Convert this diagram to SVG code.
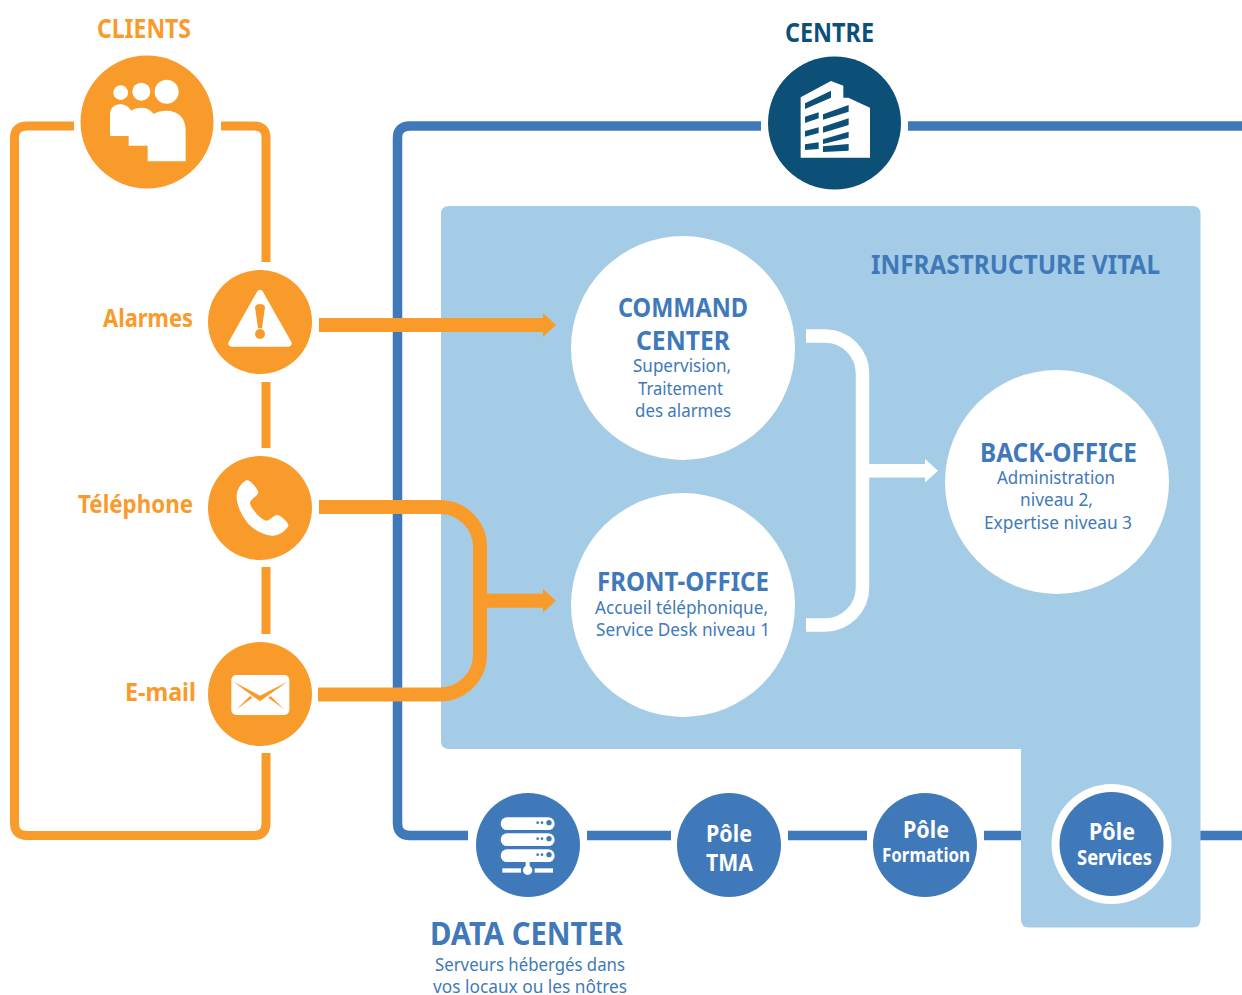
<svg xmlns="http://www.w3.org/2000/svg" width="1242" height="995" viewBox="0 0 1242 995">
<style>
text{font-family:"Noto Sans","Open Sans","DejaVu Sans",sans-serif;text-anchor:middle}
.h{font-weight:700}
.o{fill:#F99B2B}.b{fill:#3F79BA}.d{fill:#0C5078}.w{fill:#fff}
.t18{font-size:17.500px;fill:#3F79BA}
.t28{font-size:27px;font-weight:700;fill:#3F79BA}
.lb{font-size:25px;font-weight:700;fill:#F99B2B}
.lo{fill:none;stroke:#F99B2B;stroke-width:9}
.lbl{fill:none;stroke:#3F79BA;stroke-width:9.500}
.ao{fill:none;stroke:#F99B2B;stroke-width:14}
.aw{fill:none;stroke:#fff;stroke-width:13.500}
.wp{font-weight:700;fill:#fff}
</style>
<g id="connectors-frames">
<path class="lo" d="M74 126H27Q14.500 126 14.500 138V823Q14.500 835.500 27 835.500H254Q266 835.500 266 823V753M266 634V567M266 448V382M266 262V138Q266 126 254 126H221"/>
<path class="lbl" d="M761 126H410Q397.500 126 397.500 138V823Q397.500 835.500 410 835.500H468M587 835.500H671M788 835.500H867M984 835.500H1030M1190 835.500H1242M908 126H1242"/>
</g>
<g id="panel"><path d="M449 206H1192.500Q1200.500 206 1200.500 214V919.500Q1200.500 927.500 1192.500 927.500H1029Q1021 927.500 1021 919.500V749H449Q441 749 441 741V214Q441 206 449 206Z" fill="#A5CCE6"/>
<text x="1015.500" y="274" class="t28" textLength="289" lengthAdjust="spacingAndGlyphs">INFRASTRUCTURE VITAL</text></g>
<g id="connectors">
<path class="ao" d="M319 325H545"/><path class="o" d="M543 313L556 325L543 337Z"/>
<path class="ao" d="M319 507H440A40 40 0 0 1 480 547V654.500A40 40 0 0 1 440 694.500H318"/>
<path class="ao" d="M480 600.700H545"/><path class="o" d="M543 589L556 600.700L543 612.500Z"/>
<path class="aw" d="M806 336H825A37.500 37.500 0 0 1 862.500 373.500V587.500A37.500 37.500 0 0 1 825 625H806"/>
<path class="aw" d="M862.500 470.700H927"/><path class="w" d="M925 459L938 470.700L925 482.500Z"/>
</g>
<g id="clients"><text x="144" y="38" class="h o" font-size="26" textLength="94" lengthAdjust="spacingAndGlyphs">CLIENTS</text>
<circle cx="147" cy="122" r="66.500" class="o"/>
<g transform="translate(70 40) scale(.3333)" class="w"><circle cx="152" cy="158" r="22"/><circle cx="214" cy="155" r="27"/><circle cx="290" cy="155" r="36"/>
<path d="M120 288V225C120 205 133 193 150 193C165 193 177 200 183 212C192 206 203 203 215 203C230 203 243 210 251 222C262 215 275 212 290 212C325 212 347 235 347 270V364H233V317H176V288Z"/></g></g>
<g id="centre"><text x="829.500" y="42" class="h d" font-size="26" textLength="89" lengthAdjust="spacingAndGlyphs">CENTRE</text>
<circle cx="834.500" cy="123" r="66.500" class="d"/>
<g transform="translate(755 45) scale(.3333)"><path class="w" d="M137 338V157L228 108L265 122V158H280L345 188V338Z"/>
<path class="d" d="M150 175L228 137V158L150 192ZM150 215L191 202V220L150 234ZM150 258L191 247V264L150 275ZM150 298L191 292V312L150 315ZM204 208L281 180V200L204 224ZM204 245L281 220V240L204 263ZM204 283L281 260V278L204 297ZM204 304L281 297V317L204 321Z"/></g></g>
<g id="alarmes"><text x="148" y="327" class="lb" textLength="90" lengthAdjust="spacingAndGlyphs">Alarmes</text>
<circle cx="260" cy="322" r="52" class="o"/>
<g transform="translate(200 260) scale(.3333)"><path class="w" stroke="#fff" stroke-width="20" stroke-linejoin="round" d="M180 100L95 250H265Z"/><path class="o" d="M165 142Q167 132 180 132Q193 132 195 142L186 205H174Z"/><circle cx="180" cy="222" r="15" class="o"/></g></g>
<g id="telephone"><text x="135.500" y="513" class="lb" textLength="115" lengthAdjust="spacingAndGlyphs">Téléphone</text>
<circle cx="260" cy="508" r="52" class="o"/>
<g transform="translate(200 260) scale(.3333)"><path class="w" d="M110 705C112 685 125 668 140 660C150 658 176 690 175 698C172 708 150 718 150 730C152 745 185 782 200 782C212 780 222 764 232 765C245 768 268 790 265 798C255 815 235 828 215 827C190 825 160 810 140 785C122 762 108 730 110 705Z"/></g></g>
<g id="email"><text x="160.500" y="701" class="lb" textLength="71" lengthAdjust="spacingAndGlyphs">E-mail</text>
<circle cx="260" cy="694" r="52" class="o"/>
<g transform="translate(200 630) scale(.3333)"><rect x="94" y="135" width="174" height="120" rx="15" class="w"/><path class="o" d="M100 155L180 197L262 155L180 214ZM110 238L150 198L157 203ZM252 238L212 198L205 203Z"/></g></g>
<g id="command-center"><circle cx="683" cy="348" r="112" class="w"/>
<text x="683" y="316.500" class="t28" textLength="130" lengthAdjust="spacingAndGlyphs">COMMAND</text>
<text x="683" y="349.500" class="t28" textLength="94" lengthAdjust="spacingAndGlyphs">CENTER</text>
<text x="682" y="372" class="t18" textLength="98" lengthAdjust="spacingAndGlyphs">Supervision,</text>
<text x="680.500" y="395" class="t18" textLength="85" lengthAdjust="spacingAndGlyphs">Traitement</text>
<text x="683" y="417" class="t18" textLength="96" lengthAdjust="spacingAndGlyphs">des alarmes</text></g>
<g id="front-office"><circle cx="683" cy="605" r="112" class="w"/>
<text x="683" y="590.500" class="t28" textLength="172" lengthAdjust="spacingAndGlyphs">FRONT-OFFICE</text>
<text x="681.500" y="614" class="t18" textLength="173" lengthAdjust="spacingAndGlyphs">Accueil téléphonique,</text>
<text x="683" y="636" class="t18" textLength="174" lengthAdjust="spacingAndGlyphs">Service Desk niveau 1</text></g>
<g id="back-office"><circle cx="1057" cy="482" r="112" class="w"/>
<text x="1058.500" y="462" class="t28" textLength="157" lengthAdjust="spacingAndGlyphs">BACK-OFFICE</text>
<text x="1056" y="484" class="t18" textLength="118" lengthAdjust="spacingAndGlyphs">Administration</text>
<text x="1056.500" y="506" class="t18" textLength="73" lengthAdjust="spacingAndGlyphs">niveau 2,</text>
<text x="1058" y="529" class="t18" textLength="148" lengthAdjust="spacingAndGlyphs">Expertise niveau 3</text></g>
<g id="data-center"><circle cx="528" cy="845" r="52" class="b"/>
<g transform="translate(460 780) scale(.3333)"><g class="w"><rect x="122" y="112" width="162" height="38" rx="19"/><rect x="122" y="160" width="162" height="38" rx="19"/><rect x="122" y="208" width="162" height="38" rx="19"/><rect x="127" y="265" width="56" height="13"/><rect x="224" y="265" width="55" height="13"/><rect x="197" y="245" width="12" height="25"/><circle cx="203" cy="271" r="14"/></g>
<g class="b"><circle cx="233" cy="128" r="4"/><circle cx="246" cy="128" r="4"/><circle cx="267" cy="128" r="8"/><circle cx="233" cy="176" r="4"/><circle cx="246" cy="176" r="4"/><circle cx="267" cy="176" r="8"/><circle cx="233" cy="224" r="4"/><circle cx="246" cy="224" r="4"/><circle cx="267" cy="224" r="8"/></g></g>
<text x="526.500" y="945" class="h b" font-size="32" textLength="193" lengthAdjust="spacingAndGlyphs">DATA CENTER</text>
<text x="530" y="970.500" class="t18" textLength="190" lengthAdjust="spacingAndGlyphs">Serveurs hébergés dans</text>
<text x="530" y="992.500" class="t18" textLength="194" lengthAdjust="spacingAndGlyphs">vos locaux ou les nôtres</text></g>
<g id="pole-tma"><circle cx="729" cy="845" r="52" class="b"/>
<text x="729" y="842" class="wp" font-size="24" textLength="46" lengthAdjust="spacingAndGlyphs">Pôle</text>
<text x="729.500" y="871" class="wp" font-size="24" textLength="47" lengthAdjust="spacingAndGlyphs">TMA</text></g>
<g id="pole-formation"><circle cx="925" cy="845" r="52" class="b"/>
<text x="926" y="838" class="wp" font-size="24" textLength="46" lengthAdjust="spacingAndGlyphs">Pôle</text>
<text x="926" y="862" class="wp" font-size="20" textLength="88" lengthAdjust="spacingAndGlyphs">Formation</text></g>
<g id="pole-services"><circle cx="1111.500" cy="844" r="60" class="w"/><circle cx="1111.500" cy="844" r="52" class="b"/>
<text x="1112" y="840" class="wp" font-size="24" textLength="46" lengthAdjust="spacingAndGlyphs">Pôle</text>
<text x="1114.500" y="865" class="wp" font-size="21" textLength="75" lengthAdjust="spacingAndGlyphs">Services</text></g>
</svg>
